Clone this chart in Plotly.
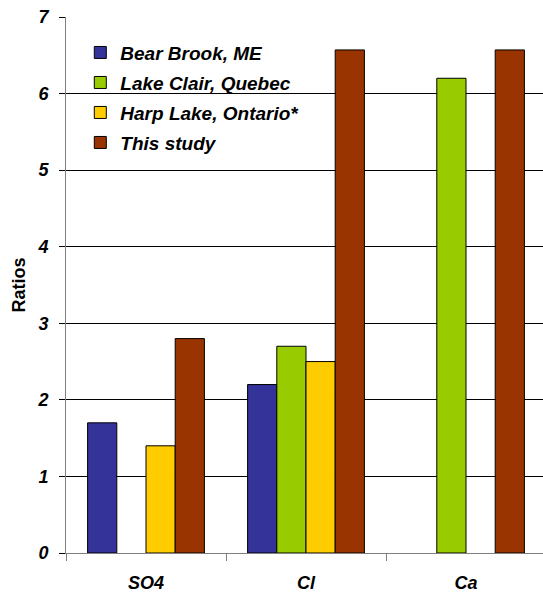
import plotly.graph_objects as go

categories = ["SO4", "Cl", "Ca"]
series_names = ["Bear Brook, ME", "Lake Clair, Quebec", "Harp Lake, Ontario*", "This study"]
bear_brook = [1.7, 2.2, None]
lake_clair = [None, 2.7, 6.2]
harp_lake = [1.4, 2.5, None]
this_study = [2.8, 6.57, 6.57]
colors = ["#333399", "#99CC00", "#FFCC00", "#993300"]
y_ticks = [0, 1, 2, 3, 4, 5, 6, 7]

FONT = "Liberation Sans, Arial, sans-serif"

fig = go.Figure()
for i, (name, vals) in enumerate(zip(series_names, [bear_brook, lake_clair, harp_lake, this_study])):
    fig.add_trace(go.Bar(
        x=categories, y=vals, name=name, legendgroup=f"g{i}",
        marker=dict(color=colors[i], line=dict(color="#000000", width=1)),
    ))

fig.update_layout(
    width=543, height=593,
    margin=dict(l=66, r=0, t=17, b=40),
    paper_bgcolor="white", plot_bgcolor="white",
    barmode="group", bargap=0.27, bargroupgap=0,
    font=dict(family=FONT, color="black"),
    showlegend=True,
    legend=dict(
        x=0.03, y=0.969, xanchor="left", yanchor="top",
        bgcolor="rgba(0,0,0,0)", borderwidth=0,
        font=dict(family=FONT, size=19, weight="bold", style="italic", color="black"),
        tracegroupgap=2.3, traceorder="grouped",
    ),
    xaxis=dict(
        range=[-0.5, 2.48125], automargin=False,
        showline=True, linecolor="#808080", linewidth=1,
        ticks="outside", tickson="boundaries", ticklen=7, tickcolor="#808080",
        tickfont=dict(family=FONT, size=18, weight="bold", style="italic"),
        ticklabelstandoff=13,
        showgrid=False,
    ),
    yaxis=dict(
        range=[0, 7], tickvals=y_ticks, automargin=False,
        showline=True, linecolor="#808080", linewidth=1,
        ticks="outside", ticklen=6, tickcolor="#000000",
        tickfont=dict(family=FONT, size=18, weight="bold", style="italic"),
        ticklabelstandoff=7,
        showgrid=True, gridcolor="#000000", gridwidth=1,
        zeroline=False,
        title=dict(text="Ratios", font=dict(family=FONT, size=18, weight="bold"), standoff=7),
    ),
)

fig.write_html(
    "out.html",
    config={"displayModeBar": False},
    post_script="document.body.style.margin='0';document.body.style.overflow='hidden';",
)
